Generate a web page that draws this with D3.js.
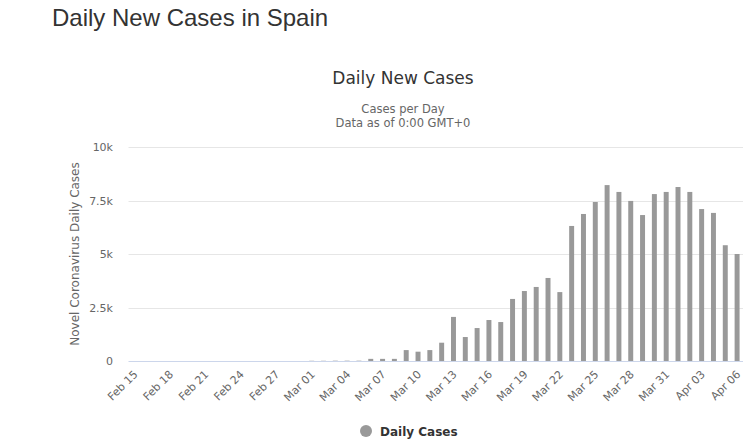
<!DOCTYPE html>
<html>
<head>
<meta charset="utf-8">
<script src="https://cdn.jsdelivr.net/npm/d3@7/dist/d3.min.js"></script>
<style>
  html, body { margin: 0; padding: 0; background: #fff; }
  svg { display: block; }
</style>
</head>
<body>
<script>
const pageTitle = "Daily New Cases in Spain";
const chartTitle = "Daily New Cases";
const subtitleLines = ["Cases per Day", "Data as of 0:00 GMT+0"];
const yAxisTitle = "Novel Coronavirus Daily Cases";
const seriesName = "Daily Cases";

const categories = [
  "Feb 15","Feb 16","Feb 17","Feb 18","Feb 19","Feb 20","Feb 21","Feb 22","Feb 23","Feb 24",
  "Feb 25","Feb 26","Feb 27","Feb 28","Feb 29",
  "Mar 01","Mar 02","Mar 03","Mar 04","Mar 05","Mar 06","Mar 07","Mar 08","Mar 09","Mar 10",
  "Mar 11","Mar 12","Mar 13","Mar 14","Mar 15","Mar 16","Mar 17","Mar 18","Mar 19","Mar 20",
  "Mar 21","Mar 22","Mar 23","Mar 24","Mar 25","Mar 26","Mar 27","Mar 28","Mar 29","Mar 30",
  "Mar 31","Apr 01","Apr 02","Apr 03","Apr 04","Apr 05","Apr 06"
];
const dailyCases = [
  0,0,0,0,0,0,0,0,0,0,
  0,0,0,0,0,
  10,10,15,15,15,100,100,100,510,435,
  510,855,2060,1120,1540,1915,1820,2900,3270,3460,
  3880,3220,6310,6870,7430,8220,7900,7480,6820,7800,
  7900,8130,7900,7100,6920,5410,5000
];
const yTicks = [0, 2500, 5000, 7500, 10000];
const yTickLabels = ["0", "2.5k", "5k", "7.5k", "10k"];
const xLabelEvery = 3;

const W = 755, H = 447;
const margin = { left: 128.5, right: 12, top: 147, bottom: 86 };
const plotRight = W - margin.right;
const plotBottom = 361;

const svg = d3.select("body").append("svg").attr("width", W).attr("height", H);

svg.append("text").attr("x", 52).attr("y", 26)
  .attr("font-family", "'Liberation Sans', Arial, sans-serif")
  .attr("font-size", 24).attr("fill", "#333").text(pageTitle);

const cx = 403;
svg.append("text").attr("x", cx).attr("y", 84).attr("text-anchor", "middle")
  .attr("font-family", "'DejaVu Sans', Verdana, sans-serif")
  .attr("font-size", 17).attr("fill", "#333").text(chartTitle);

subtitleLines.forEach((t, i) => {
  svg.append("text").attr("x", cx).attr("y", 113 + i * 13.5).attr("text-anchor", "middle")
    .attr("font-family", "'DejaVu Sans', Verdana, sans-serif")
    .attr("font-size", 11.5).attr("fill", "#666").text(t);
});

const x = d3.scaleBand().domain(categories).range([margin.left, plotRight])
  .paddingInner(0.58).paddingOuter(0.29);
const y = d3.scaleLinear().domain([0, 10000]).range([plotBottom, margin.top]);

// gridlines
svg.append("g").selectAll("line").data(yTicks.filter(d => d > 0)).join("line")
  .attr("x1", margin.left).attr("x2", plotRight)
  .attr("y1", d => Math.round(y(d)) + 0.5).attr("y2", d => Math.round(y(d)) + 0.5)
  .attr("stroke", "#e6e6e6").attr("stroke-width", 1);

// y labels
svg.append("g").selectAll("text").data(yTicks).join("text")
  .attr("x", 113).attr("y", d => y(d) + 4).attr("text-anchor", "end")
  .attr("font-family", "'DejaVu Sans', Verdana, sans-serif")
  .attr("font-size", 11).attr("fill", "#666")
  .text((d, i) => yTickLabels[i]);

// y axis title
svg.append("text")
  .attr("transform", `translate(79,${(margin.top + plotBottom) / 2}) rotate(-90)`)
  .attr("text-anchor", "middle")
  .attr("font-family", "'DejaVu Sans', Verdana, sans-serif")
  .attr("font-size", 12).attr("fill", "#666").text(yAxisTitle);

// bars
svg.append("g").selectAll("rect").data(categories).join("rect")
  .attr("x", (d) => x(d))
  .attr("width", x.bandwidth())
  .attr("y", (d, i) => y(dailyCases[i]))
  .attr("height", (d, i) => plotBottom - y(dailyCases[i]))
  .attr("fill", "#999");

// x axis line
svg.append("line").attr("x1", margin.left).attr("x2", plotRight)
  .attr("y1", plotBottom + 0.5).attr("y2", plotBottom + 0.5)
  .attr("stroke", "#ccd6eb").attr("stroke-width", 1);

// x labels
svg.append("g").selectAll("text")
  .data(categories.filter((d, i) => i % xLabelEvery === 0)).join("text")
  .attr("transform", d => `translate(${x(d) + x.bandwidth() / 2 + 4},${plotBottom + 14}) rotate(-45)`)
  .attr("text-anchor", "end")
  .attr("font-family", "'DejaVu Sans', Verdana, sans-serif")
  .attr("font-size", 11).attr("fill", "#666").text(d => d);

// legend
svg.append("circle").attr("cx", 366).attr("cy", 431).attr("r", 6).attr("fill", "#999");
svg.append("text").attr("x", 380).attr("y", 435.5)
  .attr("font-family", "'DejaVu Sans', Verdana, sans-serif")
  .attr("font-size", 12).attr("font-weight", "bold").attr("fill", "#333").text(seriesName);
</script>
</body>
</html>
